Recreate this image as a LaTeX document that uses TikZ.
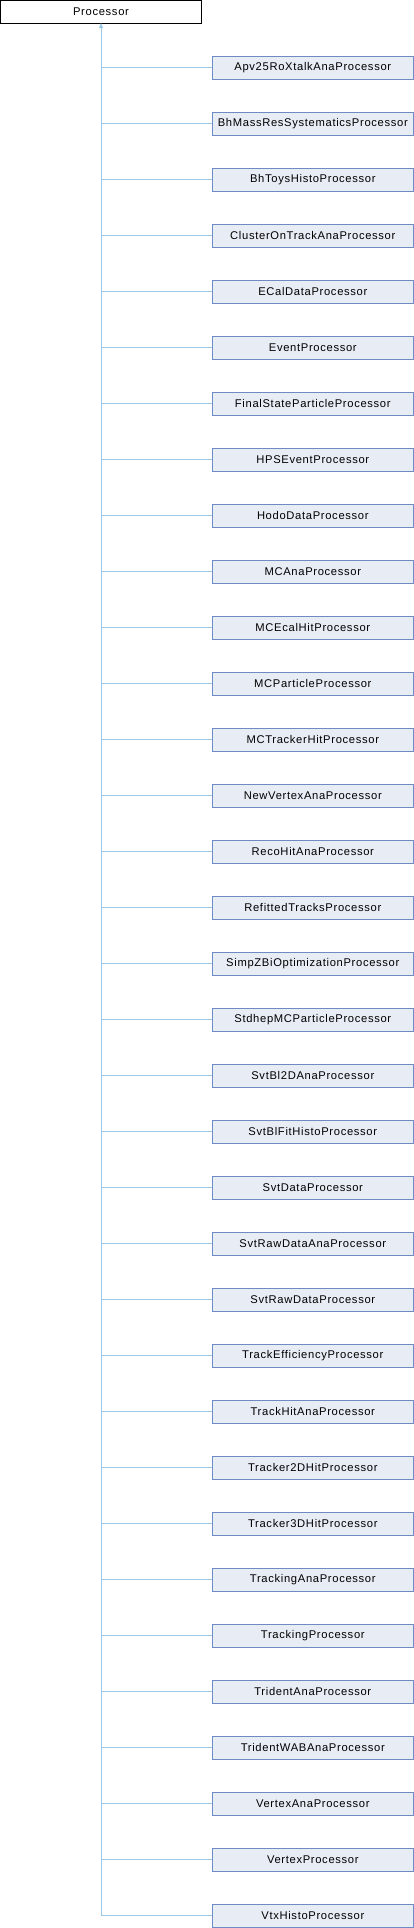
\documentclass[tikz,border=0pt]{standalone}
\usepackage{fontspec}
\setmainfont{Liberation Sans}[LetterSpace=6]
\usetikzlibrary{arrows.meta}
\definecolor{edgeblue}{HTML}{9ACAE8}
\definecolor{boxfill}{HTML}{E8ECF5}
\definecolor{boxborder}{HTML}{6E8BC4}
\begin{document}
\begin{tikzpicture}[x=1pt,y=-1pt,
  every node/.style={font=\fontsize{11.2}{13}\selectfont, inner sep=0pt, outer sep=0pt},
  basebox/.style={draw=black, fill=white, line width=1pt, minimum width=201pt, minimum height=23pt},
  childbox/.style={draw=boxborder, fill=boxfill, line width=1pt, minimum width=201pt, minimum height=23pt},
  edge/.style={draw=edgeblue, line width=1pt},
  inh/.style={edge, -{Triangle[length=5pt,width=4pt,fill=edgeblue]}}]
\useasboundingbox (0,0) rectangle (414,1928);
\node[basebox] (base) at (101,11.5) {Processor};
\coordinate (trunkend) at (101,1915.5);
\foreach \name [count=\i from 0] in {Apv25RoXtalkAnaProcessor,BhMassResSystematicsProcessor,BhToysHistoProcessor,ClusterOnTrackAnaProcessor,ECalDataProcessor,EventProcessor,FinalStateParticleProcessor,HPSEventProcessor,HodoDataProcessor,MCAnaProcessor,MCEcalHitProcessor,MCParticleProcessor,MCTrackerHitProcessor,NewVertexAnaProcessor,RecoHitAnaProcessor,RefittedTracksProcessor,SimpZBiOptimizationProcessor,StdhepMCParticleProcessor,SvtBl2DAnaProcessor,SvtBlFitHistoProcessor,SvtDataProcessor,SvtRawDataAnaProcessor,SvtRawDataProcessor,TrackEfficiencyProcessor,TrackHitAnaProcessor,Tracker2DHitProcessor,Tracker3DHitProcessor,TrackingAnaProcessor,TrackingProcessor,TridentAnaProcessor,TridentWABAnaProcessor,VertexAnaProcessor,VertexProcessor,VtxHistoProcessor} {
  \node[childbox] (c\i) at (312.8,{67.5+56*\i}) {\name};
  \coordinate (j\i) at (101,{67.5+56*\i});
  \draw[edge] (j\i) -- (c\i.west);
}
\draw[inh] (trunkend) -- (base.south);
\end{tikzpicture}
\end{document}
